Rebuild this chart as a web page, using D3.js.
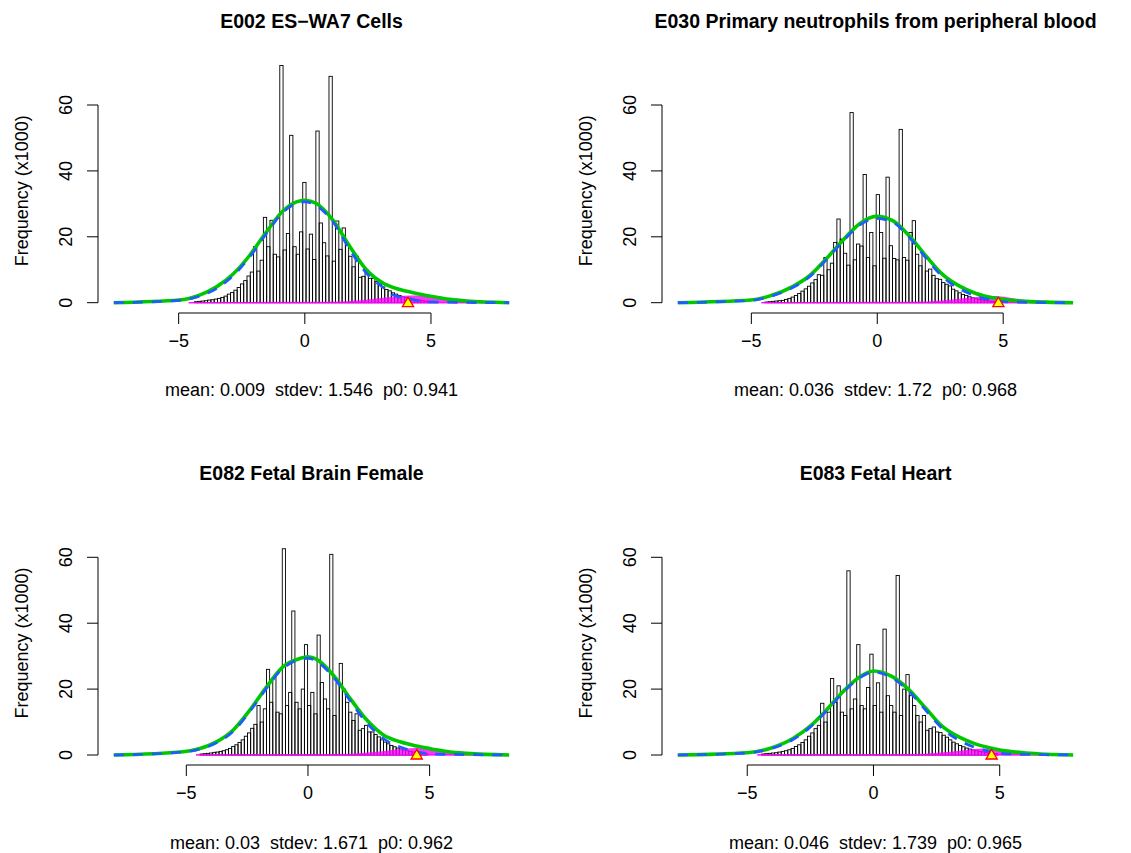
<!DOCTYPE html>
<html><head><meta charset="utf-8">
<script src="https://cdn.jsdelivr.net/npm/d3@7"></script>
<style>body{margin:0;background:#fff}svg{display:block}text{white-space:pre}</style>
</head><body>
<div id="chart"></div>
<script>
// 四个面板：直方图 (x1000) + 拟合曲线（绿=总体，蓝虚线=零分量，品红=非零分量）
const titles = ["E002 ES−WA7 Cells", "E030 Primary neutrophils from peripheral blood",
                "E082 Fetal Brain Female", "E083 Fetal Heart"];
const means = ["0.009", "0.036", "0.03", "0.046"];
const stdevs = ["1.546", "1.72", "1.671", "1.739"];
const p0s = ["0.941", "0.968", "0.962", "0.965"];
const xRanges = [[-7.57, 8.1], [-7.92, 7.78], [-7.98, 8.27], [-7.75, 7.91]];
const markX = [4.09, 4.81, 4.47, 4.68];
const binW = 0.13;
const binStart = [-4.372, -4.463, -4.436, -4.435];
const xTicks = [-5, 0, 5];
const yTicks = [0, 20, 40, 60];

const counts = [
  [0.3,0.4,0.5,0.6,0.8,0.9,1.1,1.3,
   1.6,2.0,2.6,3.1,3.8,4.6,5.7,6.7,8.1,9.3,
   17,9.6,12.9,25.9,17,25,14.7,13.9,
   72,16,21,50.8,17,14.7,21.5,36.5,16.3,
   20.8,13.1,52.1,24.2,18.2,14.2,68.7,
   12.6,24.8,16.2,22.7,18,14.1,10.9,14.1,7.7,
   8,9.9,7.4,7.4,6.4,5.7,4.8,4,3.6,3,2.6,2.2,1.8,1.6,
   1.4,1.2,1,0.8,0.6,0.5,0.4],
  [0.2,0.3,0.4,0.5,0.6,0.7,1,1.3,
   1.7,2.2,2.8,3.5,4.2,5,6,7,8.5,8.3,
   13.7,10,12,18.3,25.4,19.3,15,11.4,
   57.7,13,17.8,17.2,38.9,13.7,21.3,11.2,32.8,
   21.3,13.5,38.1,17.3,13.4,13,52.6,
   13.7,12.9,21.3,24.9,14.7,11.2,14.7,9.6,10.2,
   8.3,7.3,7.1,6.1,5.6,5.1,4.1,3.6,3,2.5,2.2,1.8,1.5,
   1.2,1,0.8,0.6,0.5,0.4,0.3],
  [0.3,0.4,0.5,0.6,0.8,0.9,1.1,1.3,
   1.6,2.0,2.6,3.1,3.8,4.6,5.7,6.7,8.1,9.3,
   15,10,14,26,16,23.5,13,12.5,
   62.6,15,19,43.7,16,14,20,33.5,15,
   19,12.5,36.4,22,17,14,60.9,
   12,22,27.8,20,16,13,10.5,12.5,7.5,
   8,9,7,7,6.2,5.5,4.6,3.9,3.4,2.9,2.5,2.1,1.8,1.5,
   1.3,1.1,0.9,0.7,0.6,0.5,0.4],
  [0.3,0.4,0.5,0.6,0.7,0.9,1.1,1.3,
   1.6,2.0,2.6,3.1,3.8,4.6,5.7,6.7,8,9,
   15.7,10,13,23.2,16,21,13,12,
   55.9,14,17,33.5,15,14,20.5,30.6,15,
   21.9,13,38.2,18,15,13,54.5,
   12,20,24.4,18,15,12,10,12,7.5,
   8,8.5,7,6.8,6,5.4,4.6,3.9,3.4,2.9,2.5,2.1,1.8,1.5,
   1.3,1.1,0.9,0.7,0.6,0.5,0.4]
];

// 绿色总体拟合曲线 [x, 频数]
const fitCurves = [
  [[-7.57,0],[-4.97,0.8],[-4.17,2.3],[-3.5,4.8],[-2.84,8.7],[-2.18,14.4],[-1.52,21.5],[-0.86,27.9],
   [-0.33,30.6],[0,31.1],[0.46,30.1],[1.12,25],[1.79,17],[2.45,9.9],[3.11,5.9],[3.77,4],[4.43,2.8],
   [5.09,1.8],[5.75,1],[6.42,0.5],[8.1,0]],
  [[-7.92,0],[-5.01,0.8],[-4.29,2],[-3.36,4.9],[-2.7,8.1],[-2.04,13.2],[-1.38,18.8],[-0.71,23.9],
   [-0.05,26.2],[0.61,24.9],[1.27,20.3],[1.93,14.2],[2.59,8.6],[3.25,5.1],[3.92,2.8],[4.58,1.5],
   [5.24,0.8],[5.9,0.4],[7.78,0]],
  [[-7.98,0],[-5.13,1],[-4.44,2],[-3.76,4],[-3.07,7.6],[-2.39,13.6],[-1.7,20.7],[-1.02,26.8],
   [-0.33,29.3],[0,29.8],[0.36,29],[1.04,24.2],[1.73,17.2],[2.42,10.6],[3.1,6.1],[3.79,4],[4.47,2.7],
   [5.16,1.7],[5.84,0.9],[6.53,0.5],[8.27,0]],
  [[-7.75,0],[-5,0.7],[-4.11,2],[-3.19,5],[-2.53,8.6],[-1.87,13.6],[-1.21,19.2],[-0.55,23.7],
   [0,25.5],[0.76,23.7],[1.42,19.7],[2.08,14.1],[2.74,8.6],[3.4,5.4],[4.06,3.3],[4.72,2],
   [5.38,1.1],[6.04,0.6],[7.91,0]]
];

// 蓝色虚线零分量曲线
const nullCurves = [
  [[-7.57,0],[-4.97,0.7],[-4.17,2.0],[-3.5,4.3],[-2.84,8.2],[-2.18,13.9],[-1.52,21],[-0.86,27.5],
   [0,30.6],[1.12,24.5],[1.79,16],[2.45,8.9],[3.11,4.6],[3.5,2.3],[4.1,1.3],[4.5,0.6],[5.1,0.2],[8.1,0]],
  [[-7.92,0],[-5.01,0.7],[-4.29,1.8],[-3.36,4.6],[-2.7,7.8],[-2.04,12.9],[-1.38,18.5],[-0.71,23.5],
   [-0.05,25.6],[0.61,24.5],[1.27,19.8],[1.93,13.6],[2.59,7.9],[3.25,4.3],[3.92,2],[4.58,0.8],[5.24,0.2],[7.78,0]],
  [[-7.98,0],[-5.13,0.9],[-4.44,1.8],[-3.76,3.7],[-3.07,7.2],[-2.39,13.2],[-1.7,20.3],[-1.02,26.4],
   [0,29.3],[1.04,23.7],[1.73,16.5],[2.42,9.7],[3.1,5],[3.79,2.4],[4.47,1],[5.16,0.3],[8.27,0]],
  [[-7.75,0],[-5,0.6],[-4.11,1.8],[-3.19,4.7],[-2.53,8.3],[-1.87,13.3],[-1.21,18.9],[-0.55,23.4],
   [0,25.2],[0.76,23.3],[1.42,19.2],[2.08,13.5],[2.74,7.9],[3.4,4.4],[4.06,2.2],[4.72,0.9],[5.38,0.3],[7.91,0]]
];

// 品红非零分量
const altCurves = [
  [[-4.6,0.2],[0,0.3],[1.5,0.4],[2.3,0.8],[3,1.4],[3.6,1.9],[4.2,2.2],[4.8,2.1],[5.4,1.6],[6,0.9],[6.6,0.3],[7.2,0.1]],
  [[-4.6,0.2],[0,0.3],[2,0.4],[2.8,0.8],[3.5,1.4],[4.1,1.9],[4.6,2],[5.2,1.6],[5.8,0.9],[6.4,0.3],[7,0.1]],
  [[-4.6,0.2],[0,0.3],[1.8,0.4],[2.6,0.8],[3.3,1.4],[3.9,1.9],[4.5,2.1],[5.1,1.8],[5.7,1.1],[6.3,0.4],[7,0.1]],
  [[-4.6,0.2],[0,0.3],[2,0.4],[2.8,0.8],[3.5,1.4],[4.1,1.9],[4.6,2],[5.2,1.6],[5.8,0.9],[6.4,0.3],[7,0.1]]
];

const W = 1131, H = 853;
const FONT = "'Liberation Sans', Arial, Helvetica, sans-serif";
const GREEN = "#00c800", BLUE = "#1f5cff", MAG = "#ff00ff";

const svg = d3.select("#chart").append("svg").attr("width", W).attr("height", H);

// 每个面板的绘图区（像素）
const panels = [
  { left: 98, right: 525, base: 302.7, axisY: 313 },
  { left: 662, right: 1089, base: 302.7, axisY: 313 },
  { left: 98, right: 525, base: 755, axisY: 765 },
  { left: 662, right: 1089, base: 755, axisY: 765 }
];
const pxPerUnit = 3.295;

panels.forEach((pp, k) => {
  const [lo, hi] = xRanges[k];
  const pad = (hi - lo) * 0.04;
  const x = d3.scaleLinear().domain([lo - pad, hi + pad]).range([pp.left, pp.right]);
  const y = d3.scaleLinear().domain([0, 60]).range([pp.base, pp.base - 60 * pxPerUnit]);
  const g = svg.append("g");

  // 直方图
  g.selectAll("rect.bar").data(counts[k]).join("rect")
    .attr("x", (d, i) => x(binStart[k] + i * binW))
    .attr("width", x(binW) - x(0))
    .attr("y", d => y(d))
    .attr("height", d => y(0) - y(d))
    .attr("fill", "none").attr("stroke", "#000").attr("stroke-width", 0.9);

  // 品红非零分量（覆盖在柱子底部）
  const alt = altCurves[k];
  g.append("path")
    .attr("d", d3.area().x(d => x(d[0])).y0(y(0)).y1(d => y(d[1])).curve(d3.curveMonotoneX)(alt))
    .attr("fill", MAG).attr("fill-opacity", 0.8).attr("stroke", "none");
  g.append("line")
    .attr("x1", x(alt[0][0])).attr("x2", x(alt[alt.length - 1][0]))
    .attr("y1", y(0)).attr("y2", y(0))
    .attr("stroke", MAG).attr("stroke-width", 1.6).attr("stroke-opacity", 0.85);

  const line = d3.line().x(d => x(d[0])).y(d => y(d[1])).curve(d3.curveMonotoneX);
  g.append("path").attr("d", line(fitCurves[k]))
    .attr("fill", "none").attr("stroke", GREEN).attr("stroke-width", 3.6);
  g.append("path").attr("d", line(nullCurves[k]))
    .attr("fill", "none").attr("stroke", BLUE).attr("stroke-width", 2.7)
    .attr("stroke-dasharray", "10 9");

  // 标记三角形
  const tx = x(markX[k]), ty = y(0);
  g.append("path")
    .attr("d", `M${tx - 5.6},${ty + 4} L${tx + 5.6},${ty + 4} L${tx},${ty - 5.5} Z`)
    .attr("fill", "#ffff00").attr("stroke", "#ff0000").attr("stroke-width", 1.3);

  // 坐标轴
  g.append("line").attr("x1", x(-5)).attr("x2", x(5)).attr("y1", pp.axisY).attr("y2", pp.axisY)
    .attr("stroke", "#000");
  xTicks.forEach(t => {
    g.append("line").attr("x1", x(t)).attr("x2", x(t)).attr("y1", pp.axisY).attr("y2", pp.axisY + 11)
      .attr("stroke", "#000");
    g.append("text").attr("x", x(t)).attr("y", pp.axisY + 34).attr("text-anchor", "middle")
      .attr("style", `font:18px ${FONT}`).text(t < 0 ? "−" + Math.abs(t) : t);
  });
  g.append("line").attr("x1", pp.left).attr("x2", pp.left).attr("y1", y(0)).attr("y2", y(60))
    .attr("stroke", "#000");
  yTicks.forEach(t => {
    g.append("line").attr("x1", pp.left - 11).attr("x2", pp.left).attr("y1", y(t)).attr("y2", y(t))
      .attr("stroke", "#000");
    g.append("text").attr("transform", `translate(${pp.left - 26},${y(t)}) rotate(-90)`)
      .attr("text-anchor", "middle").attr("style", `font:18px ${FONT}`).text(t);
  });
  g.append("text").attr("transform", `translate(${pp.left - 70},${pp.base - 112}) rotate(-90)`)
    .attr("text-anchor", "middle").attr("style", `font:18px ${FONT}`).text("Frequency (x1000)");

  const cx = (pp.left + pp.right) / 2;
  g.append("text").attr("x", cx).attr("y", pp.base - 275).attr("text-anchor", "middle")
    .attr("style", `font:bold 19.5px ${FONT}`).text(titles[k]);
  g.append("text").attr("x", cx).attr("y", pp.base + 93.5).attr("text-anchor", "middle")
    .attr("style", `font:18px ${FONT}`)
    .text(`mean: ${means[k]}  stdev: ${stdevs[k]}  p0: ${p0s[k]}`);
});
</script>
</body></html>
